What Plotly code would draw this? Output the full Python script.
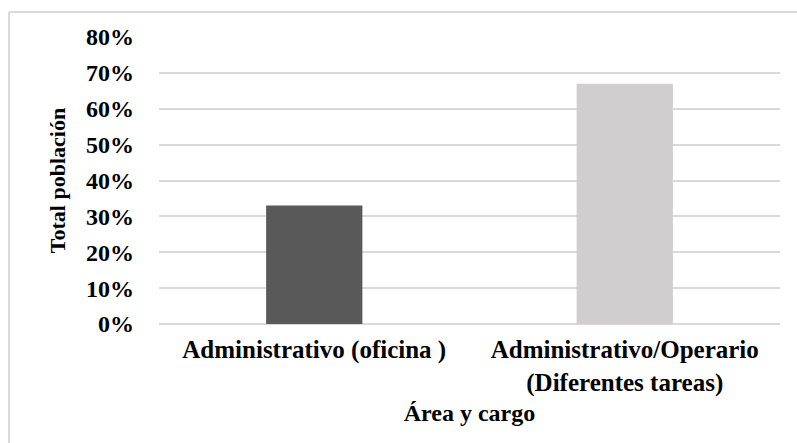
import plotly.graph_objects as go

# Share of the population by area and role
categories = ["Administrativo (oficina )", "Administrativo/Operario<br>(Diferentes tareas)"]
shares = [0.33, 0.67]
bar_colors = ["#595959", "#d0cece"]

W, H = 797, 443
L, R, T, B = 159, 17, 37, 119
plot_w = W - L - R
plot_h = H - T - B

font_family = "Liberation Serif, Times New Roman, serif"

fig = go.Figure(
    go.Bar(
        x=categories,
        y=shares,
        marker=dict(color=bar_colors, line=dict(width=0)),
        width=0.31,
        hoverinfo="skip",
    )
)

# Outer chart frame (top and left edges)
fx = (9 - L) / plot_w
fy_top = 1 + (T - 12) / plot_h
fy_bot = -(B) / plot_h
frame = dict(color="#d9d9d9", width=2)
fig.add_shape(type="line", xref="paper", yref="paper",
              x0=fx, x1=(W - L) / plot_w + 0.01, y0=fy_top, y1=fy_top, line=frame)
fig.add_shape(type="line", xref="paper", yref="paper",
              x0=fx, x1=fx, y0=fy_top, y1=fy_bot - 0.02, line=frame)

fig.update_layout(
    width=W,
    height=H,
    margin=dict(l=L, r=R, t=T, b=B),
    paper_bgcolor="white",
    plot_bgcolor="white",
    showlegend=False,
    font=dict(family=font_family, color="#000000", size=20),
    bargap=0.69,
)

fig.update_xaxes(
    showgrid=False,
    showline=False,
    zeroline=False,
    ticks="",
    tickfont=dict(family=font_family, size=25, color="#000000", weight="bold"),
    ticklabelstandoff=8,
    title=dict(text="<b>Área y cargo</b>", font=dict(family=font_family, size=24), standoff=8),
)

fig.update_yaxes(
    range=[0, 0.8],
    dtick=0.1,
    tickformat=".0%",
    showgrid=True,
    gridcolor="#d9d9d9",
    gridwidth=1.5,
    zeroline=True,
    zerolinecolor="#d9d9d9",
    zerolinewidth=1.5,
    showline=False,
    ticks="",
    tickfont=dict(family=font_family, size=24, color="#000000", weight="bold"),
    ticklabelstandoff=24,
    title=dict(text="<b>Total población</b>", font=dict(family=font_family, size=22), standoff=14),
)

fig.write_html("out.html")
